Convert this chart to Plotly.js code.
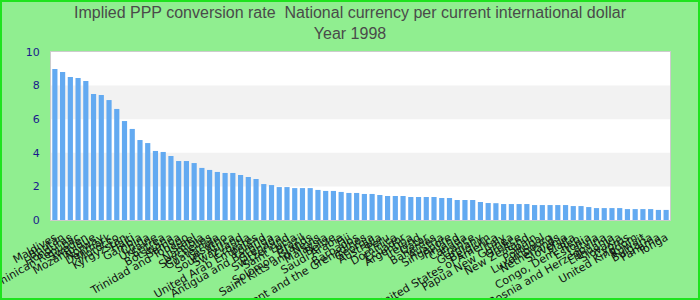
<!DOCTYPE html>
<html>
<head>
<meta charset="utf-8">
<script src="https://cdn.plot.ly/plotly-3.0.1.min.js"></script>
<style>
  html, body { margin: 0; padding: 0; background: #90ee90; }
  #wrap { position: relative; width: 700px; height: 300px; }
  #chart { width: 700px; height: 300px; }
  #frame { position: absolute; left: 0; top: 0; width: 700px; height: 300px; box-sizing: border-box; border: 2px solid #1ee31e; pointer-events: none; }
</style>
</head>
<body>
<div id="wrap"><div id="chart"></div><div id="frame"></div></div>
<script>
const countries = [
  "Maldives", "Bhutan", "Honduras", "Dominican Republic", "Sweden",
  "Mozambique", "Norway", "Denmark", "Morocco", "Kyrgyzstan",
  "Haiti", "Gambia", "China", "Ukraine", "Eritrea",
  "Botswana", "Samoa", "Trinidad and Tobago", "Israel", "Namibia",
  "Seychelles", "Guatemala", "Lesotho", "South Africa", "Swaziland",
  "Croatia", "United Arab Emirates", "Poland", "Antigua and Barbuda", "Grenada",
  "Switzerland", "Saint Lucia", "Brazil", "Solomon Islands", "Saint Kitts and Nevis",
  "Malaysia", "Belize", "Saudi Arabia", "Fiji", "Barbados",
  "Saint Vincent and the Grenadines", "Georgia", "Australia", "Peru", "Dominica",
  "Ecuador", "Argentina", "Ireland", "Qatar", "Bahamas",
  "Austria", "Singapore", "Finland", "Canada", "France",
  "Germany", "Belgium", "United States of America", "Italy", "Papua New Guinea",
  "Greece", "New Zealand", "Spain", "Portugal", "Luxembourg",
  "Netherlands", "Slovenia", "Malta", "Congo, Dem. Rep.", "Estonia",
  "Latvia", "Bosnia and Herzegovina", "Lithuania", "Slovakia", "Cyprus",
  "United Kingdom", "Kuwait", "Bulgaria", "Panama", "Tonga"
];
const pppRate = [
  8.99, 8.81, 8.51, 8.45, 8.27, 7.50, 7.44, 7.14, 6.61, 5.89,
  5.42, 4.76, 4.58, 4.11, 4.05, 3.81, 3.51, 3.51, 3.39, 3.10,
  2.98, 2.86, 2.80, 2.80, 2.68, 2.56, 2.44, 2.14, 2.08, 1.96,
  1.96, 1.90, 1.90, 1.90, 1.79, 1.73, 1.73, 1.67, 1.61, 1.61,
  1.55, 1.55, 1.49, 1.43, 1.43, 1.43, 1.37, 1.37, 1.37, 1.37,
  1.31, 1.31, 1.19, 1.19, 1.19, 1.07, 1.01, 1.00, 0.95, 0.95,
  0.95, 0.95, 0.89, 0.89, 0.89, 0.89, 0.89, 0.83, 0.83, 0.77,
  0.71, 0.71, 0.71, 0.71, 0.65, 0.65, 0.65, 0.65, 0.60, 0.60
];
const yTicks = [0, 2, 4, 6, 8, 10];
const titleLines = ["Implied PPP conversion rate  National currency per current international dollar", "Year 1998"];

const bands = [];
for (let k = 0; k < yTicks.length - 1; k++) {
  if (k % 2 === 1) {
    bands.push({type: 'rect', xref: 'paper', yref: 'y', x0: 0, x1: 1, y0: yTicks[k], y1: yTicks[k + 1],
      fillcolor: '#f2f2f2', line: {width: 0}, layer: 'below'});
  }
}

Plotly.newPlot('chart', [{
  type: 'bar',
  x: countries,
  y: pppRate,
  marker: {color: '#63aaf1'},
  hoverinfo: 'x+y'
}], {
  width: 700, height: 300,
  paper_bgcolor: '#90ee90',
  plot_bgcolor: '#ffffff',
  margin: {l: 51, r: 30, t: 52, b: 80, pad: 0},
  bargap: 0.33,
  title: {
    text: titleLines.join('<br>'),
    x: 0.5, xanchor: 'center', y: 0.94, yanchor: 'top',
    font: {family: 'Liberation Sans, Arial, sans-serif', size: 16, color: '#4a4a4a'}
  },
  xaxis: {
    type: 'category',
    tickmode: 'linear', dtick: 1,
    tickangle: -30,
    tickfont: {family: 'DejaVu Sans, sans-serif', size: 11, color: '#111111'},
    showgrid: false, zeroline: false,
    showline: true, mirror: true, linecolor: '#cccccc', linewidth: 1,
    ticks: 'outside', ticklen: 6, tickcolor: 'rgba(0,0,0,0)',
    automargin: false
  },
  yaxis: {
    range: [0, 10],
    tickvals: yTicks,
    tickfont: {family: 'DejaVu Sans, sans-serif', size: 11, color: '#1a1a8c'},
    showgrid: false, zeroline: false,
    showline: true, mirror: true, linecolor: '#cccccc', linewidth: 1,
    ticks: 'outside', ticklen: 8, tickcolor: 'rgba(0,0,0,0)',
    automargin: false
  },
  shapes: bands,
  showlegend: false
}, {displayModeBar: false, staticPlot: true});
</script>
</body>
</html>
